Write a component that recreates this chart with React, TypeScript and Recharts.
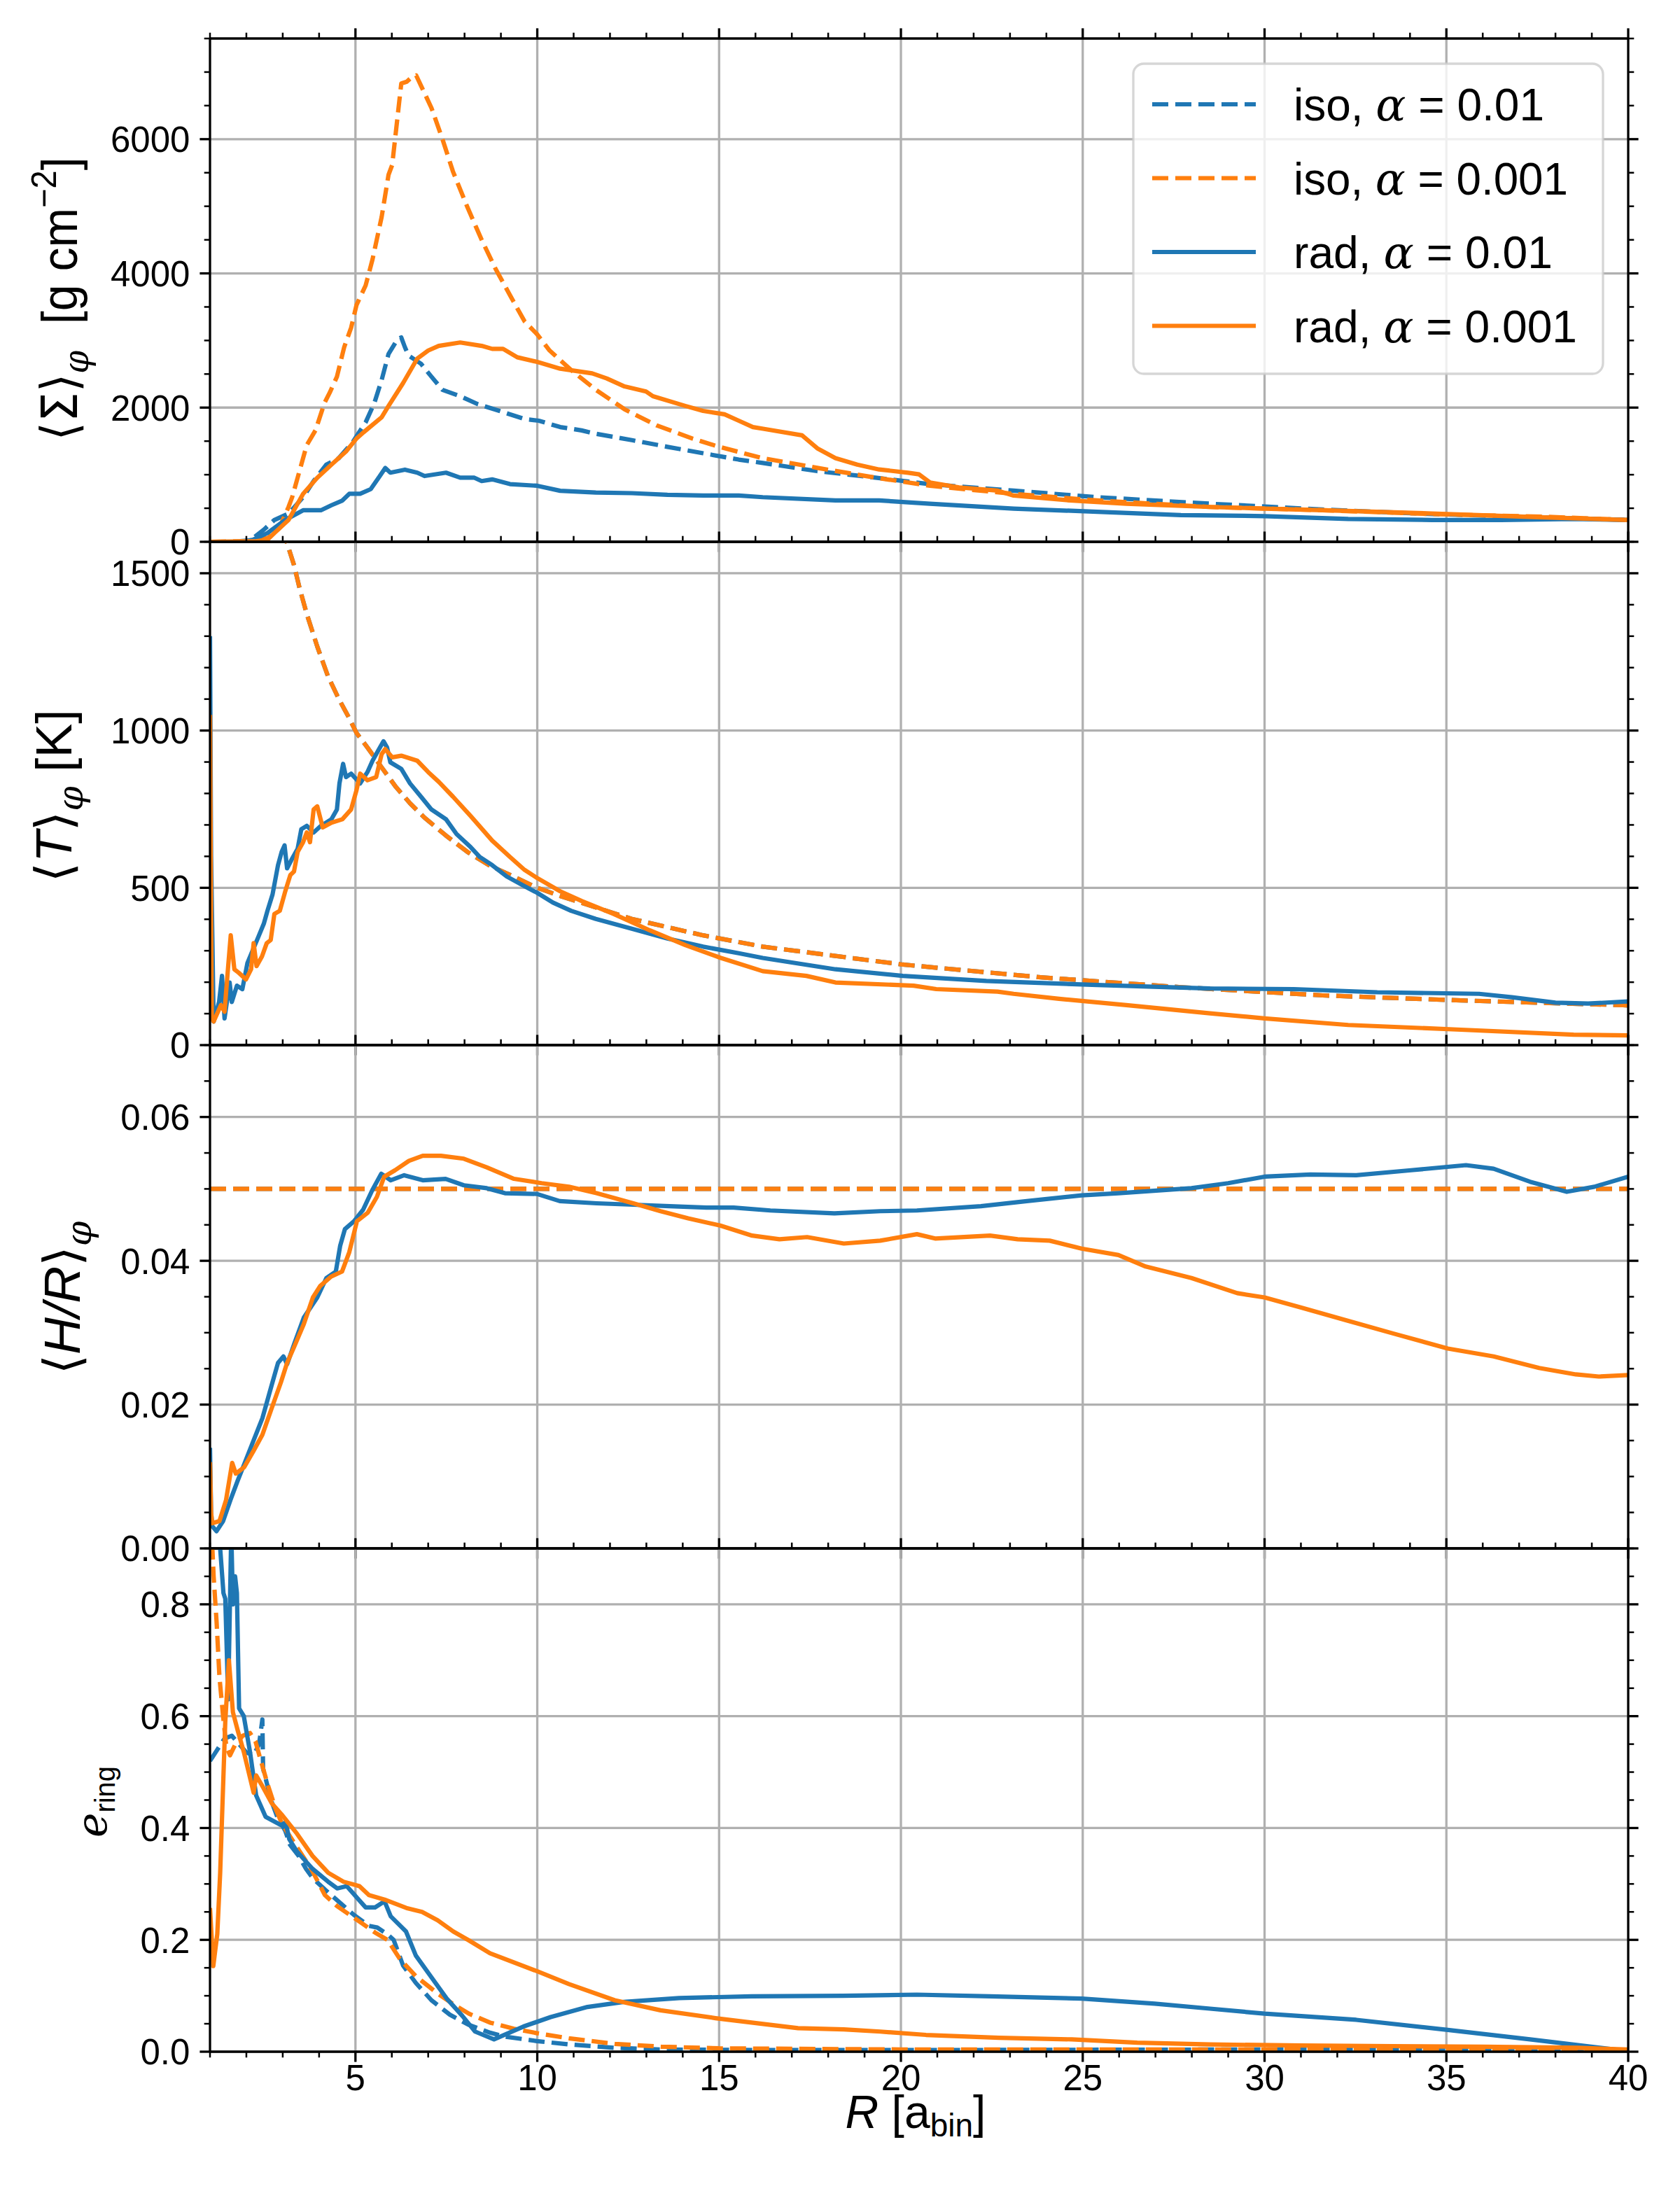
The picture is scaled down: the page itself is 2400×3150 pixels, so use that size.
import React from 'react';
import { LineChart, Line, XAxis, YAxis, CartesianGrid } from 'recharts';

type Pt = [number, number];

// ---------- Panel 1: <Sigma>_phi [g cm^-2] ----------
const sigmaIsoA01: Pt[] = [[1,0],[1.6,0],[2.1,20],[2.48,180],[2.77,325],[3.16,420],[3.56,665],[3.85,905],[4.2,1150],[4.54,1245],[4.93,1490],[5.28,1780],[5.52,2070],[5.72,2410],[5.91,2800],[6.16,3020],[6.26,3045],[6.36,2900],[6.46,2775],[6.8,2655],[7.09,2460],[7.39,2265],[7.88,2170],[8.37,2050],[8.96,1950],[9.65,1830],[10.04,1805],[10.63,1710],[11.22,1660],[11.61,1610],[12.6,1515],[13.58,1415],[14.56,1320],[15.54,1225],[16.2,1175],[17.7,1053],[19.3,956],[20.8,859],[23.1,762],[25.4,665],[28.5,568],[31.6,481],[34.6,413],[37.7,364],[40,325]];
const sigmaIsoA001: Pt[] = [[1,0],[2.0,10],[2.6,60],[2.9,200],[3.16,520],[3.26,665],[3.66,1440],[3.9,1660],[4.15,2070],[4.29,2220],[4.49,2460],[4.69,2900],[4.88,3190],[5.03,3530],[5.28,3820],[5.47,4210],[5.72,4840],[5.91,5470],[6.01,5615],[6.16,6345],[6.26,6830],[6.41,6855],[6.5,6900],[6.67,6950],[6.9,6685],[7.09,6465],[7.39,6005],[7.68,5520],[8.08,4985],[8.47,4500],[8.86,4060],[9.25,3675],[9.65,3285],[10.0,3090],[10.34,2850],[10.93,2560],[11.61,2265],[12.4,1975],[13.28,1735],[14.26,1540],[15.0,1415],[16.2,1247],[17.7,1102],[19.3,956],[20.8,835],[23.1,714],[25.4,616],[28.5,519],[31.6,471],[34.6,413],[37.7,374],[40,325]];
const sigmaRadA01: Pt[] = [[1,0],[1.9,5],[2.18,30],[2.58,130],[3.07,325],[3.56,470],[4.05,470],[4.34,545],[4.64,615],[4.83,715],[5.13,715],[5.42,785],[5.67,980],[5.82,1100],[5.96,1030],[6.36,1075],[6.7,1030],[6.9,980],[7.49,1030],[7.88,955],[8.27,955],[8.47,905],[8.76,930],[9.25,860],[10.0,835],[10.63,760],[11.61,735],[12.6,725],[13.58,700],[14.56,690],[15.54,690],[16.2,665],[18.2,616],[19.4,616],[20.8,568],[23.1,495],[25.4,447],[27.7,398],[30.0,383],[32.3,340],[34.6,325],[36.5,325],[38.5,340],[40,325]];
const sigmaRadA001: Pt[] = [[1,0],[2.28,10],[2.58,30],[2.77,130],[3.16,325],[3.56,715],[3.95,955],[4.34,1150],[4.74,1345],[5.03,1540],[5.23,1635],[5.72,1855],[5.91,2025],[6.31,2365],[6.7,2730],[7.0,2850],[7.29,2920],[7.88,2970],[8.47,2920],[8.76,2875],[9.06,2875],[9.45,2750],[10.0,2680],[10.63,2580],[11.51,2510],[11.91,2435],[12.4,2315],[12.99,2240],[13.18,2170],[14.07,2025],[14.56,1950],[15.15,1900],[15.54,1805],[15.93,1710],[16.21,1685],[17.28,1587],[17.7,1393],[18.2,1247],[18.8,1150],[19.4,1078],[20.2,1029],[20.5,1005],[20.8,883],[21.6,811],[22.66,762],[23.1,689],[24.65,616],[26.2,568],[28.5,519],[30,495],[31.6,471],[34.6,422],[37.7,364],[40,325]];

// ---------- Panel 2: <T>_phi [K] ----------
const tempIso: Pt[] = [[2.8,1790],[3.11,1599],[3.31,1526],[3.46,1454],[3.66,1371],[3.95,1267],[4.24,1174],[4.54,1101],[4.83,1039],[5.03,992],[5.33,946],[5.72,883],[6.11,821],[6.5,769],[6.9,723],[7.49,666],[8.08,614],[8.67,572],[9.25,541],[10.0,500],[10.63,474],[11.61,438],[12.6,401],[13.58,375],[14.56,349],[16.2,313],[20.05,256],[23.9,215],[27.7,184],[31.6,158],[35.4,142],[39.85,127],[40,126]];
const tempRadA01: Pt[] = [[1.0,1300],[1.03,600],[1.1,75],[1.25,137],[1.33,220],[1.4,85],[1.54,199],[1.6,137],[1.74,189],[1.89,178],[2.03,261],[2.18,303],[2.33,344],[2.48,386],[2.58,427],[2.72,479],[2.87,572],[2.97,614],[3.05,635],[3.12,562],[3.26,593],[3.41,624],[3.51,686],[3.66,697],[3.85,676],[4.05,697],[4.34,718],[4.49,749],[4.56,832],[4.66,894],[4.74,852],[4.88,863],[5.13,832],[5.33,868],[5.47,904],[5.62,935],[5.77,966],[5.87,946],[5.96,899],[6.26,878],[6.5,832],[6.8,790],[7.09,749],[7.49,718],[7.78,671],[8.17,629],[8.42,598],[8.76,572],[9.16,536],[9.65,505],[10.0,484],[10.43,453],[10.93,427],[11.61,401],[12.6,370],[13.58,339],[14.56,313],[15.54,292],[16.2,277],[18.2,241],[20.05,220],[22.35,204],[25.4,191],[28.5,180],[30.8,178],[33.1,168],[35.9,163],[36.8,152],[38.0,135],[38.9,132],[40,139]];
const tempRadA001: Pt[] = [[1.0,1050],[1.03,400],[1.05,85],[1.1,75],[1.3,127],[1.4,106],[1.5,251],[1.57,349],[1.67,241],[1.79,230],[1.99,209],[2.13,241],[2.2,324],[2.28,251],[2.43,282],[2.56,324],[2.67,334],[2.77,417],[2.92,427],[3.07,489],[3.21,541],[3.31,552],[3.41,614],[3.56,645],[3.66,676],[3.75,645],[3.85,749],[3.95,759],[4.1,692],[4.34,707],[4.64,718],[4.88,749],[5.03,811],[5.13,863],[5.33,842],[5.57,852],[5.72,925],[5.82,941],[6.01,915],[6.26,920],[6.7,904],[7.0,868],[7.29,837],[7.68,790],[8.17,728],[8.76,650],[9.25,598],[9.65,557],[10.0,531],[10.63,489],[11.22,458],[12.1,417],[13.09,365],[14.07,318],[15.05,277],[16.2,235],[17.4,220],[18.2,199],[20.35,189],[20.97,178],[22.66,170],[23.1,163],[24.35,147],[26.2,127],[28.5,101],[30.0,85],[32.3,64],[35.4,49],[38.5,33],[40,31]];

// ---------- Panel 3: <H/R>_phi ----------
const aspectIso: Pt[] = [[1,0.05],[40,0.05]];
const aspectRadA01: Pt[] = [[1.0,0.014],[1.03,0.005],[1.06,0.0031],[1.18,0.0024],[1.36,0.0038],[1.56,0.0067],[1.76,0.0094],[1.94,0.0117],[2.19,0.0149],[2.44,0.0181],[2.69,0.0226],[2.87,0.0258],[3.02,0.0267],[3.12,0.0256],[3.32,0.0285],[3.58,0.0321],[3.95,0.0349],[4.2,0.0376],[4.46,0.0385],[4.58,0.0421],[4.71,0.0444],[4.96,0.0455],[5.21,0.0471],[5.46,0.0498],[5.71,0.0521],[5.97,0.0512],[6.34,0.0519],[6.85,0.0512],[7.48,0.0514],[7.98,0.0505],[8.61,0.0501],[9.11,0.0494],[9.99,0.0493],[10.62,0.0483],[11.63,0.048],[12.64,0.0478],[13.64,0.0476],[14.65,0.0474],[15.4,0.0474],[16.41,0.047],[18.17,0.0466],[19.43,0.0469],[20.44,0.047],[22.2,0.0476],[23.46,0.0483],[24.97,0.0491],[25.98,0.0494],[27.99,0.0501],[29.0,0.0508],[30.0,0.0517],[31.26,0.052],[32.52,0.0519],[34.03,0.0526],[35.54,0.0533],[36.3,0.0528],[37.3,0.051],[38.31,0.0496],[39.07,0.0503],[40,0.0517]];
const aspectRadA001: Pt[] = [[1.0,0.012],[1.03,0.005],[1.06,0.0035],[1.26,0.0038],[1.44,0.0067],[1.61,0.0119],[1.71,0.0104],[1.94,0.0113],[2.19,0.0135],[2.44,0.0158],[2.69,0.0194],[2.95,0.0231],[3.12,0.0258],[3.32,0.0281],[3.58,0.0312],[3.83,0.0349],[4.03,0.0365],[4.33,0.0378],[4.63,0.0385],[4.83,0.0412],[5.04,0.0455],[5.34,0.0467],[5.59,0.0489],[5.79,0.0517],[6.09,0.0526],[6.47,0.0539],[6.85,0.0546],[7.35,0.0546],[7.98,0.0542],[8.61,0.053],[9.36,0.0514],[10.12,0.0508],[10.87,0.0503],[11.63,0.0494],[12.64,0.048],[13.39,0.0469],[14.15,0.0459],[15.03,0.0449],[15.91,0.0435],[16.66,0.043],[17.42,0.0433],[18.43,0.0424],[19.43,0.0428],[20.44,0.0437],[20.94,0.0431],[22.45,0.0435],[23.21,0.043],[24.09,0.0428],[24.97,0.0417],[25.98,0.0408],[26.73,0.0392],[27.99,0.0376],[29.25,0.0355],[30.0,0.0349],[31.01,0.0335],[32.27,0.0317],[33.53,0.0299],[35.04,0.0278],[36.3,0.0267],[37.55,0.0251],[38.56,0.0242],[39.19,0.0239],[40,0.0241]];

// ---------- Panel 4: e_ring ----------
const eccIsoA01: Pt[] = [[1.0,0.52],[1.2,0.54],[1.4,0.56],[1.6,0.565],[1.8,0.55],[2.0,0.535],[2.2,0.53],[2.35,0.55],[2.44,0.594],[2.46,0.506],[2.69,0.448],[2.85,0.42],[3.07,0.395],[3.2,0.37],[3.45,0.349],[3.64,0.327],[3.83,0.31],[4.16,0.29],[4.6,0.265],[4.95,0.245],[5.37,0.225],[5.6,0.222],[5.88,0.21],[6.05,0.2],[6.31,0.154],[6.66,0.123],[7.09,0.092],[7.6,0.066],[8.12,0.048],[8.7,0.034],[9.11,0.027],[9.99,0.019],[10.87,0.013],[12.13,0.007],[13.39,0.004],[15.9,0.003],[21,0.003],[30,0.004],[36,0.005],[40,0.001]];
const eccIsoA001: Pt[] = [[1.03,0.95],[1.1,0.85],[1.18,0.77],[1.26,0.67],[1.36,0.6],[1.45,0.545],[1.55,0.53],[1.7,0.55],[1.9,0.565],[2.1,0.57],[2.25,0.555],[2.4,0.52],[2.6,0.475],[2.8,0.435],[3.0,0.405],[3.4,0.365],[3.8,0.325],[4.16,0.28],[4.5,0.26],[4.95,0.24],[5.54,0.213],[5.88,0.2],[6.22,0.166],[6.66,0.135],[7.26,0.104],[7.69,0.085],[8.12,0.068],[8.7,0.052],[9.36,0.041],[10.0,0.033],[10.87,0.024],[12.13,0.014],[13.4,0.009],[15,0.006],[20,0.004],[30,0.004],[40,0.002]];
const eccRadA01: Pt[] = [[1.0,0.98],[1.2,0.95],[1.28,0.9],[1.37,0.82],[1.42,0.81],[1.5,0.63],[1.585,0.93],[1.63,0.8],[1.69,0.85],[1.74,0.82],[1.8,0.614],[1.93,0.6],[2.1,0.536],[2.27,0.458],[2.53,0.42],[2.96,0.405],[3.08,0.41],[3.18,0.38],[3.39,0.358],[3.82,0.327],[4.25,0.304],[4.5,0.292],[4.76,0.296],[5.02,0.277],[5.28,0.258],[5.54,0.258],[5.8,0.269],[5.97,0.242],[6.39,0.215],[6.66,0.172],[7.09,0.133],[7.51,0.095],[7.94,0.064],[8.29,0.036],[8.81,0.022],[9.62,0.045],[10.37,0.062],[11.38,0.08],[12.38,0.089],[13.9,0.096],[15.9,0.099],[18.4,0.1],[20.44,0.102],[22.45,0.099],[24.97,0.095],[26.98,0.086],[28.5,0.077],[30.0,0.068],[32.52,0.057],[35.04,0.039],[37.3,0.022],[40,0.001]];
const eccRadA001: Pt[] = [[1.0,0.257],[1.09,0.153],[1.2,0.21],[1.28,0.32],[1.34,0.436],[1.42,0.59],[1.52,0.70],[1.63,0.607],[1.76,0.575],[1.93,0.536],[2.1,0.49],[2.2,0.463],[2.27,0.494],[2.44,0.475],[2.7,0.444],[2.96,0.425],[3.39,0.39],[3.82,0.35],[4.25,0.32],[4.67,0.304],[5.11,0.296],[5.37,0.28],[5.8,0.272],[6.4,0.257],[6.83,0.25],[7.26,0.235],[7.69,0.215],[8.12,0.199],[8.7,0.176],[9.99,0.144],[10.87,0.121],[12.13,0.092],[13.39,0.074],[14.9,0.06],[16.41,0.048],[17.17,0.042],[18.43,0.04],[19.43,0.036],[20.69,0.03],[22.7,0.025],[24.7,0.022],[26.5,0.016],[28.5,0.013],[31.0,0.011],[33.5,0.01],[36,0.009],[38.6,0.007],[40,0.004]];

// ---------- ticks ----------
const xTicksAll = [1,2,3,4,5,6,7,8,9,10,11,12,13,14,15,16,17,18,19,20,21,22,23,24,25,26,27,28,29,30,31,32,33,34,35,36,37,38,39,40];
const xTicksMajor = [5,10,15,20,25,30,35,40];
const xGridValues = [5,10,15,20,25,30,35];
const sigmaTicksMajor = [0,2000,4000,6000];
const sigmaTicksAll = [0,500,1000,1500,2000,2500,3000,3500,4000,4500,5000,5500,6000,6500,7000,7500];
const tempTicksMajor = [0,500,1000,1500];
const tempTicksAll = [0,100,200,300,400,500,600,700,800,900,1000,1100,1200,1300,1400,1500,1600];
const aspectTicksMajor = [0,0.02,0.04,0.06];
const aspectTicksAll = [0,0.005,0.01,0.015,0.02,0.025,0.03,0.035,0.04,0.045,0.05,0.055,0.06,0.065,0.07];
const eccTicksMajor = [0,0.2,0.4,0.6,0.8];
const eccTicksAll = [0,0.05,0.1,0.15,0.2,0.25,0.3,0.35,0.4,0.45,0.5,0.55,0.6,0.65,0.7,0.75,0.8,0.85,0.9];

const legendRuns = ['iso', 'iso', 'rad', 'rad'];
const legendAlphas = ['0.01', '0.001', '0.01', '0.001'];

const BLUE = '#1f77b4';
const ORANGE = '#ff7f0e';
const W = 2400;
const H = 3150;
const PANEL_H = 719;
const SANS = "'Liberation Sans', Arial, Helvetica, sans-serif";
const SERIF = "'DejaVu Serif', 'Liberation Serif', serif";
const SYM = "'DejaVu Sans', sans-serif";
const MAJ = 14.6;
const MIN = 8.3;
const TICK_FS = 51;

type Series = { data: Pt[]; color: string; dashed: boolean };
type PanelCfg = {
  top: number;
  domain: [number, number];
  majors: number[];
  all: number[];
  fmt: (v: number) => string;
  series: Series[];
  xLabels: boolean;
};

const panels: PanelCfg[] = [
  {
    top: 55, domain: [0, 7500], majors: sigmaTicksMajor, all: sigmaTicksAll, fmt: (v) => String(v), xLabels: false,
    series: [
      { data: sigmaIsoA01, color: BLUE, dashed: true },
      { data: sigmaIsoA001, color: ORANGE, dashed: true },
      { data: sigmaRadA01, color: BLUE, dashed: false },
      { data: sigmaRadA001, color: ORANGE, dashed: false },
    ],
  },
  {
    top: 774, domain: [0, 1600], majors: tempTicksMajor, all: tempTicksAll, fmt: (v) => String(v), xLabels: false,
    series: [
      { data: tempIso, color: BLUE, dashed: true },
      { data: tempIso, color: ORANGE, dashed: true },
      { data: tempRadA01, color: BLUE, dashed: false },
      { data: tempRadA001, color: ORANGE, dashed: false },
    ],
  },
  {
    top: 1493, domain: [0, 0.07], majors: aspectTicksMajor, all: aspectTicksAll, fmt: (v) => v.toFixed(2), xLabels: false,
    series: [
      { data: aspectIso, color: BLUE, dashed: true },
      { data: aspectIso, color: ORANGE, dashed: true },
      { data: aspectRadA01, color: BLUE, dashed: false },
      { data: aspectRadA001, color: ORANGE, dashed: false },
    ],
  },
  {
    top: 2212, domain: [0, 0.9], majors: eccTicksMajor, all: eccTicksAll, fmt: (v) => v.toFixed(1), xLabels: true,
    series: [
      { data: eccIsoA01, color: BLUE, dashed: true },
      { data: eccIsoA001, color: ORANGE, dashed: true },
      { data: eccRadA01, color: BLUE, dashed: false },
      { data: eccRadA001, color: ORANGE, dashed: false },
    ],
  },
];

const isMajor = (v: number, majors: number[]) => majors.some((m) => Math.abs(m - v) < 1e-7);

type Orient = 'left' | 'right' | 'top' | 'bottom';
function makeTick(orient: Orient, majors: number[], fmt: ((v: number) => string) | null, minorsToo: boolean) {
  return (props: any) => {
    const x = Number(props.x);
    const y = Number(props.y);
    const v = Number(props.payload?.value);
    const maj = isMajor(v, majors);
    if (!maj && !minorsToo) return <g />;
    const len = maj ? MAJ : MIN;
    const sw = maj ? 3.3 : 2.5;
    let x2 = x;
    let y2 = y;
    if (orient === 'left') x2 = x - len;
    else if (orient === 'right') x2 = x + len;
    else if (orient === 'top') y2 = y - len;
    else y2 = y + len;
    let label: React.ReactNode = null;
    if (maj && fmt) {
      if (orient === 'left') {
        label = (
          <text x={x - MAJ - 14} y={y + 0.36 * TICK_FS} textAnchor="end" fontSize={TICK_FS} fontFamily={SANS} fill="#000">
            {fmt(v)}
          </text>
        );
      } else if (orient === 'bottom') {
        label = (
          <text x={x} y={y + 55} textAnchor="middle" fontSize={TICK_FS} fontFamily={SANS} fill="#000">
            {fmt(v)}
          </text>
        );
      }
    }
    return (
      <g>
        <line x1={x} y1={y} x2={x2} y2={y2} stroke="#000" strokeWidth={sw} />
        {label}
      </g>
    );
  };
}

const toRows = (pts: Pt[]) => pts.map(([r, v]) => ({ r, v }));

function Panel({ cfg }: { cfg: PanelCfg }) {
  const bottom = H - (cfg.top + PANEL_H);
  const spine = { stroke: '#000', strokeWidth: 3.3 };
  return (
    <div style={{ position: 'absolute', left: 0, top: 0 }}>
      <LineChart width={W} height={H} margin={{ top: cfg.top - 20, bottom: bottom - 20, left: 0, right: 0 }}>
        <CartesianGrid
          xAxisId="b"
          yAxisId="l"
          horizontalValues={cfg.majors}
          verticalValues={xGridValues}
          stroke="#b0b0b0"
          strokeWidth={3.3}
        />
        <XAxis
          xAxisId="b" type="number" dataKey="r" domain={[1, 40]} allowDataOverflow ticks={xTicksAll} interval={0}
          height={20} tickSize={0} tickMargin={0} axisLine={spine} tickLine={false}
          tick={makeTick('bottom', xTicksMajor, cfg.xLabels ? (v) => String(v) : null, cfg.xLabels)}
        />
        <XAxis
          xAxisId="t" orientation="top" type="number" dataKey="r" domain={[1, 40]} allowDataOverflow ticks={xTicksAll} interval={0}
          height={20} tickSize={0} tickMargin={0} axisLine={spine} tickLine={false}
          tick={makeTick('top', xTicksMajor, null, true)}
        />
        <YAxis
          yAxisId="l" type="number" domain={cfg.domain} allowDataOverflow ticks={cfg.all} interval={0}
          width={300} tickSize={0} tickMargin={0} axisLine={spine} tickLine={false}
          tick={makeTick('left', cfg.majors, cfg.fmt, true)}
        />
        <YAxis
          yAxisId="r" orientation="right" type="number" domain={cfg.domain} allowDataOverflow ticks={cfg.all} interval={0}
          width={74} tickSize={0} tickMargin={0} axisLine={spine} tickLine={false}
          tick={makeTick('right', cfg.majors, null, true)}
        />
        {cfg.series.map((s, i) => (
          <Line
            key={i}
            xAxisId="b"
            yAxisId="l"
            data={toRows(s.data)}
            dataKey="v"
            type="linear"
            stroke={s.color}
            strokeWidth={6.2}
            strokeDasharray={s.dashed ? '23 10' : undefined}
            strokeLinejoin="round"
            dot={false}
            activeDot={false}
            isAnimationActive={false}
          />
        ))}
      </LineChart>
    </div>
  );
}

function Overlay() {
  const rows = [149, 254.5, 360, 465.5];
  const widths = [358, 392, 370, 405];
  return (
    <svg width={W} height={H} style={{ position: 'absolute', left: 0, top: 0, pointerEvents: 'none' }}>
      {/* y labels */}
      <text transform="translate(110,427) rotate(-90)" textAnchor="middle" fontSize={72} fontFamily={SANS} fill="#000"
        textLength={405} lengthAdjust="spacingAndGlyphs">
        <tspan fontFamily={SYM}>⟨Σ⟩</tspan>
        <tspan fontFamily={SERIF} fontStyle="italic" fontSize={50} dy={16}>φ</tspan>
        <tspan dy={-16}>{'\u00a0\u00a0[g\u00a0cm'}</tspan>
        <tspan fontSize={50} dy={-30}>−2</tspan>
        <tspan dy={30}>]</tspan>
      </text>
      <text transform="translate(102,1137) rotate(-90)" textAnchor="middle" fontSize={72} fontFamily={SANS} fill="#000"
        textLength={247} lengthAdjust="spacingAndGlyphs">
        <tspan fontFamily={SYM}>⟨</tspan>
        <tspan fontStyle="italic">T</tspan>
        <tspan fontFamily={SYM}>⟩</tspan>
        <tspan fontFamily={SERIF} fontStyle="italic" fontSize={50} dy={16}>φ</tspan>
        <tspan dy={-16}>{'\u00a0[K]'}</tspan>
      </text>
      <text transform="translate(114,1854) rotate(-90)" textAnchor="middle" fontSize={72} fontFamily={SANS} fill="#000"
        textLength={219} lengthAdjust="spacingAndGlyphs">
        <tspan fontFamily={SYM}>⟨</tspan>
        <tspan fontStyle="italic">H/R</tspan>
        <tspan fontFamily={SYM}>⟩</tspan>
        <tspan fontFamily={SERIF} fontStyle="italic" fontSize={50} dy={16}>φ</tspan>
      </text>
      <text transform="translate(152,2574) rotate(-90)" textAnchor="middle" fontSize={60} fontFamily={SERIF} fill="#000"
        textLength={102} lengthAdjust="spacingAndGlyphs">
        <tspan fontStyle="italic">e</tspan>
        <tspan fontFamily={SANS} fontSize={40} dy={12}>ring</tspan>
      </text>
      {/* x label */}
      <text x={1308} y={3040} textAnchor="middle" fontSize={66} fontFamily={SANS} fill="#000">
        <tspan fontStyle="italic">R</tspan>
        <tspan>{'\u00a0[a'}</tspan>
        <tspan fontSize={46} dy={12}>bin</tspan>
        <tspan dy={-12}>]</tspan>
      </text>
      {/* legend */}
      <rect x={1619} y={91} width={671} height={443} rx={15} ry={15} fill="#fff" fillOpacity={0.8}
        stroke="#cccccc" strokeOpacity={0.8} strokeWidth={3.3} />
      {rows.map((ry, i) => (
        <g key={i}>
          <line x1={1646} x2={1794} y1={ry} y2={ry} stroke={i % 2 === 0 ? BLUE : ORANGE} strokeWidth={6.2}
            strokeDasharray={i < 2 ? '23 10' : undefined} />
          <text x={1848} y={ry + 23} fontSize={64} fontFamily={SANS} fill="#000" textLength={widths[i]} lengthAdjust="spacingAndGlyphs">
            <tspan>{legendRuns[i] + ',\u00a0'}</tspan>
            <tspan fontFamily={SERIF} fontStyle="italic">α</tspan>
            <tspan>{'\u00a0=\u00a0' + legendAlphas[i]}</tspan>
          </text>
        </g>
      ))}
    </svg>
  );
}

export default function App() {
  return (
    <div style={{ position: 'absolute', left: 0, top: 0, width: W, height: H, background: '#fff', overflow: 'hidden' }}>
      {panels.map((p, i) => (
        <Panel key={i} cfg={p} />
      ))}
      <Overlay />
    </div>
  );
}
